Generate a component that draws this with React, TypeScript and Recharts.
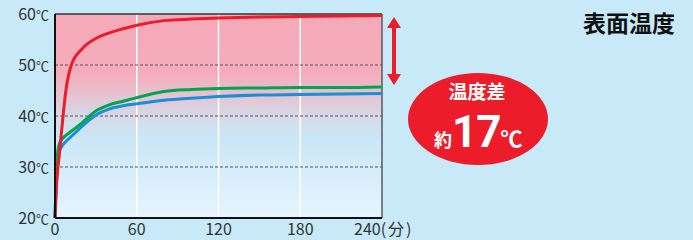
import { CartesianGrid, Line, LineChart, ReferenceLine, XAxis, YAxis } from "recharts"

const minutes = [0, 1, 2, 3, 5, 8, 12, 20, 30, 40, 50, 60, 80, 100, 120, 150, 180, 210, 240]
const red = [20, 26, 29.5, 32, 37.5, 45, 50, 53.2, 55.2, 56.3, 57.1, 57.8, 58.7, 59, 59.2, 59.4, 59.5, 59.6, 59.7]
const green = [20, 29, 33, 34.4, 35.4, 36.2, 37, 38.7, 41, 42.2, 42.9, 43.6, 44.8, 45.2, 45.4, 45.5, 45.6, 45.6, 45.7]
const blue = [20, 27, 31, 32.8, 34, 35, 36, 38, 40.2, 41.4, 42, 42.4, 43.1, 43.5, 43.8, 44.1, 44.2, 44.3, 44.4]

const xTicks = [0, 60, 120, 180, 240]
const yTicks = [20, 30, 40, 50, 60]

const data = minutes.map((m, i) => ({ m, red: red[i], green: green[i], blue: blue[i] }))

const FONT = "'Noto Sans CJK JP', 'Noto Sans', sans-serif"
const TEXT = "#333"

function YTick({ x, y, payload }: any) {
  return (
    <text x={x + 2} y={y} dy={6} textAnchor="end" fontFamily={FONT} fill={TEXT}>
      <tspan fontSize={16}>{payload.value}</tspan>
      <tspan fontSize={13}>℃</tspan>
    </text>
  )
}

function XTick({ x, y, payload }: any) {
  if (payload.value === 240) {
    return (
      <text x={x - 28} y={y} dy={9} textAnchor="start" fontFamily={FONT} fill={TEXT} fontSize={16}>
        240<tspan letterSpacing={2}>(分)</tspan>
      </text>
    )
  }
  return (
    <text x={x} y={y} dy={9} textAnchor="middle" fontFamily={FONT} fill={TEXT} fontSize={16}>
      {payload.value}
    </text>
  )
}

export default function App() {
  return (
    <div style={{ position: "absolute", left: 0, top: 0, width: 693, height: 240, background: "#c7e9f8", overflow: "hidden" }}>
      <LineChart width={693} height={240} data={data} margin={{ top: 14, right: 311, bottom: 0, left: 0 }}>
        <defs>
          <linearGradient id="bg" x1="0" y1="0" x2="0" y2="1">
            <stop offset="0%" stopColor="#f5a9b8" />
            <stop offset="30%" stopColor="#f4adbc" />
            <stop offset="50%" stopColor="#d6d9e7" />
            <stop offset="60%" stopColor="#cae6f6" />
            <stop offset="100%" stopColor="#e5f5fd" />
          </linearGradient>
        </defs>
        <CartesianGrid fill="url(#bg)" stroke="#ffffff" strokeWidth={1.5} horizontal={false} verticalValues={[60, 120, 180]} />
        <CartesianGrid stroke="#555" strokeDasharray="3 2" vertical={false} horizontalValues={[30, 40, 50]} />
        <XAxis
          dataKey="m"
          type="number"
          domain={[0, 240]}
          ticks={xTicks}
          tick={<XTick />}
          tickLine={false}
          axisLine={{ stroke: "#111", strokeWidth: 2 }}
          height={22}
        />
        <YAxis
          type="number"
          domain={[20, 60]}
          ticks={yTicks}
          tick={<YTick />}
          tickLine={false}
          axisLine={{ stroke: "#111", strokeWidth: 2 }}
          width={55}
        />
        <ReferenceLine y={60} stroke="#333" strokeWidth={1.5} />
        <ReferenceLine x={240} stroke="#5a5a5a" strokeWidth={1.5} />
        <Line dataKey="blue" stroke="#1b8fd6" strokeWidth={3} dot={false} type="monotone" isAnimationActive={false} />
        <Line dataKey="green" stroke="#00a551" strokeWidth={3} dot={false} type="monotone" isAnimationActive={false} />
        <Line dataKey="red" stroke="#ec1c2a" strokeWidth={3} dot={false} type="monotone" isAnimationActive={false} />
      </LineChart>
      <svg width={693} height={240} style={{ position: "absolute", left: 0, top: 0, pointerEvents: "none" }}>
        <polygon points="394,17 387,28 401,28" fill="#ec1c2a" />
        <rect x={392} y={27} width={4} height={48} fill="#ec1c2a" />
        <polygon points="394,85 387,74 401,74" fill="#ec1c2a" />
        <ellipse cx={478} cy={119} rx={70} ry={46} fill="#ec1c2a" />
        <text x={477} y={99} textAnchor="middle" fontFamily={FONT} fontWeight={700} fontSize={19} fill="#fff">
          温度差
        </text>
        <text x={434} y={147} fontFamily={FONT} fontWeight={700} fill="#fff">
          <tspan fontSize={18}>約</tspan>
          <tspan fontSize={44} fontFamily="Roboto, sans-serif" letterSpacing={-1}>17</tspan>
          <tspan fontSize={22}>℃</tspan>
        </text>
        <text x={629} y={32} textAnchor="middle" fontFamily={FONT} fontWeight={700} fontSize={23} fill="#111">
          表面温度
        </text>
      </svg>
    </div>
  )
}
